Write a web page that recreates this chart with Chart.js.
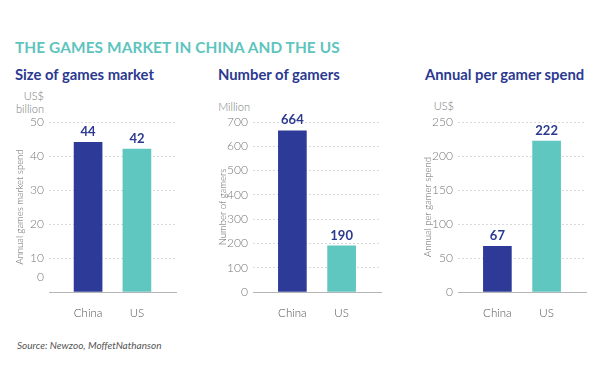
<!DOCTYPE html>
<html>
<head>
<meta charset="utf-8">
<script src="https://cdn.jsdelivr.net/npm/chart.js@4.4.1/dist/chart.umd.min.js"></script>
<style>
  body { margin: 0; background: #fff; font-family: Lato, "Open Sans", sans-serif; }
  #page { position: relative; width: 600px; height: 388px; overflow: hidden; }
  .abs { position: absolute; white-space: nowrap; }
  #title { left: 15px; top: 38px; font-size: 15.4px; font-weight: 700; color: #5ec4be; letter-spacing: 0.1px; }
  .sub { top: 65px; font-size: 14.8px; font-weight: 700; color: #2b3990; }
  .unit { font-size: 11px; color: #777; text-align: right; line-height: 13px; font-weight: 300; }
  #source { left: 17px; top: 339px; font-size: 10px; font-style: italic; color: #555; }
  canvas { position: absolute; top: 85px; }
</style>
</head>
<body>
<div id="page">
  <div id="title" class="abs">THE GAMES MARKET IN CHINA AND THE US</div>
  <div class="abs sub" style="left:15px">Size of games market</div>
  <div class="abs sub" style="left:218px">Number of gamers</div>
  <div class="abs sub" style="left:425px">Annual per gamer spend</div>

  <div class="abs unit" style="right:556px; top:89px">US$<br>billion</div>
  <div class="abs unit" style="right:350px; top:100px">Million</div>
  <div class="abs unit" style="right:146px; top:99px">US$</div>

  <canvas id="c1" width="180" height="235" style="left:8px"></canvas>
  <canvas id="c2" width="185" height="235" style="left:205px"></canvas>
  <canvas id="c3" width="190" height="235" style="left:410px"></canvas>

  <div id="source" class="abs">Source: Newzoo, MoffetNathanson</div>
</div>
<script>
var categories = ['China', 'US'];
var marketSize = [44, 42];     // US$ billion
var gamers = [664, 190];       // million
var perGamer = [67, 222];      // US$

var colors = ['#2d3a97', '#5fc6c0'];

// value labels above the bars (+ the raised "0" on the first chart)
var barLabels = {
    id: 'barLabels',
    afterDatasetsDraw: function (chart) {
        var ctx = chart.ctx;
        var meta = chart.getDatasetMeta(0);
        ctx.save();
        ctx.font = 'bold 13px Lato, sans-serif';
        ctx.fillStyle = '#2b3990';
        ctx.textAlign = 'center';
        ctx.textBaseline = 'bottom';
        meta.data.forEach(function (bar, i) {
            ctx.fillText(chart.data.datasets[0].data[i].y, bar.x, bar.y - 4);
        });
        if (chart.options.raisedZero) {
            var y = chart.scales.y;
            ctx.font = '300 12px Lato, sans-serif';
            ctx.fillStyle = '#777';
            ctx.textAlign = 'right';
            ctx.textBaseline = 'middle';
            ctx.fillText('0', y.right - 5, y.getPixelForValue(0) - 15);
        }
        ctx.restore();
    }
};

function makeChart(id, values, yMax, yStep, axisTitle, yWidth, padRight, titlePad, raisedZero) {
    var points = values.map(function (v, i) { return {x: i, y: v}; });
    return new Chart(document.getElementById(id), {
        type: 'bar',
        data: {
            datasets: [{
                data: points,
                backgroundColor: colors,
                barThickness: 28
            }]
        },
        plugins: [barLabels],
        options: {
            responsive: false,
            animation: false,
            devicePixelRatio: 1,
            raisedZero: raisedZero,
            layout: {padding: {top: 37, right: padRight, bottom: 0, left: 0}},
            plugins: {legend: {display: false}, tooltip: {enabled: false}},
            scales: {
                x: {
                    type: 'linear',
                    offset: false,
                    min: -0.8,
                    max: 1.8,
                    grid: {display: false},
                    border: {display: true, color: '#b5b5b5', width: 1},
                    ticks: {
                        stepSize: 1,
                        autoSkip: false,
                        maxRotation: 0,
                        padding: 6,
                        color: '#555',
                        font: {family: 'Lato', size: 11.5, weight: 300},
                        callback: function (v) {
                            return Number.isInteger(v) ? categories[v] : '';
                        }
                    },
                    afterFit: function (s) { s.height = 28; }
                },
                y: {
                    min: 0,
                    max: yMax,
                    grid: {color: '#d9d9d9', drawTicks: false},
                    border: {display: false, dash: [2, 2]},
                    ticks: {
                        stepSize: yStep,
                        padding: 5,
                        color: '#777',
                        font: {family: 'Lato', size: 12, weight: 300},
                        callback: function (v) {
                            return (raisedZero && v === 0) ? '' : v;
                        }
                    },
                    title: {
                        display: true,
                        text: axisTitle,
                        color: '#666',
                        font: {family: 'Lato', size: 9.5, weight: 300},
                        padding: {top: titlePad, bottom: 0}
                    },
                    afterFit: function (s) { s.width = yWidth; }
                }
            }
        }
    });
}

makeChart('c1', marketSize, 50, 10, 'Annual games market spend', 41, 12, 6, true);
makeChart('c2', gamers, 700, 100, 'Number of gamers', 48, 9, 12, false);
makeChart('c3', perGamer, 250, 50, 'Annual per gamer spend', 48, 14, 12, false);
</script>
</body>
</html>
